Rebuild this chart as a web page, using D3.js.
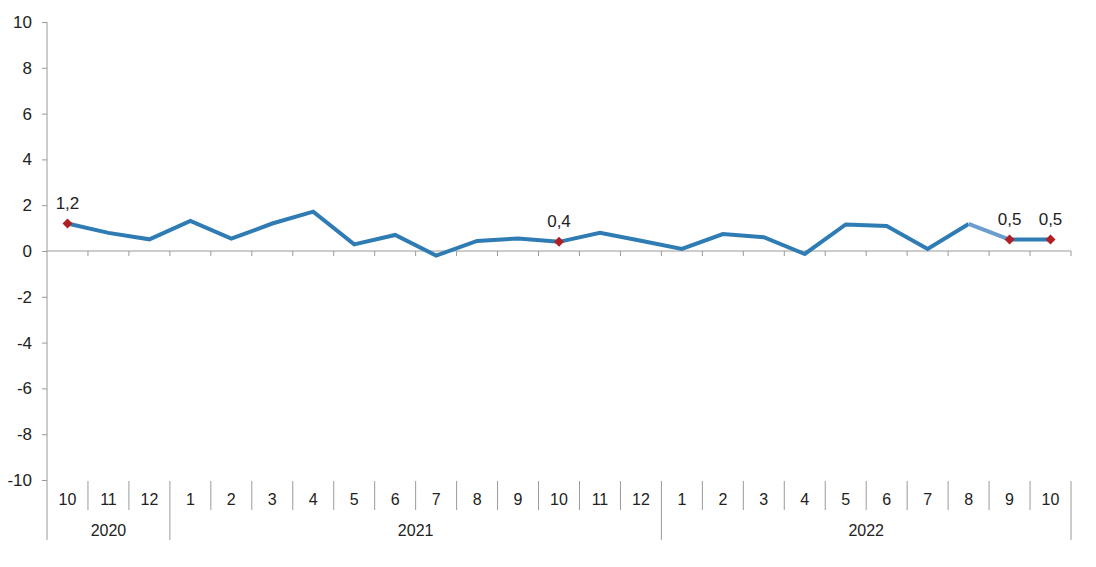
<!DOCTYPE html>
<html>
<head>
<meta charset="utf-8">
<script src="https://cdn.jsdelivr.net/npm/d3@7"></script>
<style>
  html, body { margin: 0; padding: 0; background: #fff; }
  svg { display: block; font-family: "Liberation Sans", Arial, sans-serif; }
</style>
</head>
<body>
<svg id="chart" width="1096" height="567"></svg>
<script>
const months = ["10","11","12","1","2","3","4","5","6","7","8","9","10","11","12","1","2","3","4","5","6","7","8","9","10"];
const years = ["2020","2020","2020","2021","2021","2021","2021","2021","2021","2021","2021","2021","2021","2021","2021","2022","2022","2022","2022","2022","2022","2022","2022","2022","2022"];
const values = [1.2, 0.79, 0.51, 1.31, 0.54, 1.2, 1.72, 0.29, 0.70, -0.2, 0.44, 0.55, 0.4, 0.80, 0.45, 0.09, 0.74, 0.60, -0.13, 1.16, 1.09, 0.09, 1.18, 0.5, 0.5];
const labelledIdx = [0, 12, 23, 24];
const labelText = ["1,2", "0,4", "0,5", "0,5"];
const yTicks = [-10, -8, -6, -4, -2, 0, 2, 4, 6, 8, 10];

(function () {
const svg = d3.select("#chart");
const pLeft = 47, pRight = 1071, pTop = 22, pBottom = 480;
const keys = months.map((m, i) => i);

const x = d3.scaleBand().domain(keys).range([pLeft, pRight]).padding(0);
const y = d3.scaleLinear().domain([-10, 10]).range([pBottom, pTop]);
const cx = i => x(i) + x.bandwidth() / 2;

const axisColor = "#9a9a9a";
const textColor = "#222";

// Y axis
const yAxis = d3.axisLeft(y).tickValues(yTicks).tickSize(5).tickFormat(d => String(d));
const gy = svg.append("g").attr("transform", `translate(${pLeft},0)`).call(yAxis);
gy.select(".domain").remove();
gy.selectAll(".tick line").attr("stroke", axisColor);
gy.selectAll(".tick text").attr("fill", textColor).attr("font-size", 17)
  .attr("font-family", "Liberation Sans, Arial, sans-serif").attr("x", -15);
svg.append("line").attr("x1", pLeft).attr("x2", pLeft).attr("y1", pTop).attr("y2", 540)
  .attr("stroke", axisColor).attr("stroke-width", 1);

// Zero axis line with ticks at band boundaries
svg.append("line").attr("x1", pLeft).attr("x2", pRight).attr("y1", y(0)).attr("y2", y(0))
  .attr("stroke", axisColor).attr("stroke-width", 1);
const boundaries = keys.map(i => x(i) + x.bandwidth());
svg.append("g").selectAll("line").data(boundaries).join("line")
  .attr("x1", d => d).attr("x2", d => d)
  .attr("y1", y(0)).attr("y2", y(0) + 5)
  .attr("stroke", axisColor);

// Month labels and separators
const catG = svg.append("g");
catG.selectAll("text.m").data(keys).join("text").attr("class", "m")
  .attr("x", i => cx(i)).attr("y", 505)
  .attr("text-anchor", "middle").attr("font-size", 16).attr("fill", textColor)
  .text(i => months[i]);
const sepMonth = keys.slice(1).filter(i => years[i] === years[i - 1]).map(i => x(i));
catG.selectAll("line.ms").data(sepMonth).join("line").attr("class", "ms")
  .attr("x1", d => d).attr("x2", d => d).attr("y1", 481).attr("y2", 510)
  .attr("stroke", axisColor);
const yearStarts = keys.filter(i => i > 0 && years[i] !== years[i - 1]).map(i => x(i)).concat([pRight]);
catG.selectAll("line.ys").data(yearStarts).join("line").attr("class", "ys")
  .attr("x1", d => d).attr("x2", d => d).attr("y1", 481).attr("y2", 540)
  .attr("stroke", axisColor);
const yearGroups = d3.groups(keys, i => years[i]);
catG.selectAll("text.y").data(yearGroups).join("text").attr("class", "y")
  .attr("x", d => (x(d[1][0]) + x(d[1][d[1].length - 1]) + x.bandwidth()) / 2)
  .attr("y", 536).attr("text-anchor", "middle").attr("font-size", 16).attr("fill", textColor)
  .text(d => d[0]);

// Line
const line = d3.line().x(i => cx(i)).y(i => y(values[i]));
const mainColor = "#2f7cb5";
const lightColor = "#6b9dcf";
svg.append("path").datum(keys.slice(0, 23)).attr("d", line)
  .attr("fill", "none").attr("stroke", mainColor).attr("stroke-width", 4)
  .attr("stroke-linejoin", "miter");
svg.append("path").datum([22, 23]).attr("d", line)
  .attr("fill", "none").attr("stroke", lightColor).attr("stroke-width", 4);
svg.append("path").datum([23, 24]).attr("d", line)
  .attr("fill", "none").attr("stroke", mainColor).attr("stroke-width", 4);

// Markers (square rotated 45°)
const sym = d3.symbol().type(d3.symbolSquare).size(50);
svg.append("g").selectAll("path").data(labelledIdx).join("path")
  .attr("d", sym).attr("transform", i => `translate(${cx(i)},${y(values[i])}) rotate(45)`)
  .attr("fill", "#b01f24");

// Data labels
svg.append("g").selectAll("text").data(labelledIdx).join("text")
  .attr("x", i => cx(i)).attr("y", i => y(values[i]) - 15)
  .attr("text-anchor", "middle").attr("font-size", 17).attr("fill", textColor)
  .text((i, k) => labelText[k]);
})();
</script>
</body>
</html>
